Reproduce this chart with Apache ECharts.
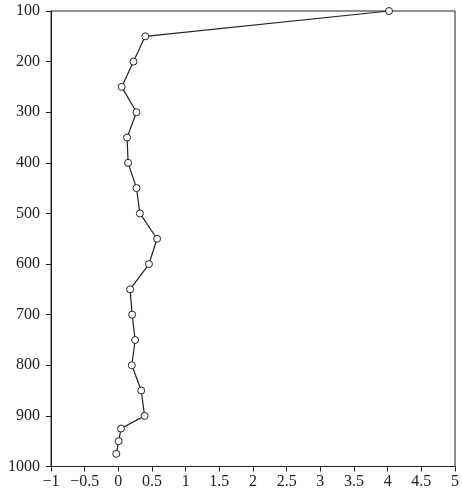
<!DOCTYPE html>
<html>
<head>
<meta charset="utf-8">
<script src="https://cdn.jsdelivr.net/npm/echarts@6/dist/echarts.min.js"></script>
<style>html,body{margin:0;padding:0;background:#fff}#c{width:462px;height:500px}</style>
</head>
<body>
<div id="c"></div>
<script>
const depths = [100,150,200,250,300,350,400,450,500,550,600,650,700,750,800,850,900,925,950,975];
const values = [4.02,0.40,0.225,0.05,0.27,0.13,0.145,0.27,0.32,0.575,0.455,0.175,0.205,0.25,0.20,0.34,0.39,0.04,0.005,-0.03];
const xTicks = [-1,-0.5,0,0.5,1,1.5,2,2.5,3,3.5,4,4.5,5];
const yTicks = [100,200,300,400,500,600,700,800,900,1000];

const chart = echarts.init(document.getElementById('c'), null, {renderer:'canvas'});
const fontFam = '"Liberation Serif", "DejaVu Serif", serif';
const ink = '#222';
chart.setOption({
  animation:false,
  grid:{left:51, top:11, right:4.5, bottom:33.5, show:true, borderColor:ink, borderWidth:1},
  xAxis:{
    type:'value', min:xTicks[0], max:xTicks[xTicks.length-1], interval:0.5,
    axisLine:{onZero:false, lineStyle:{color:ink, width:1}},
    axisTick:{show:true, length:5, inside:false, lineStyle:{color:ink}},
    splitLine:{show:false},
    axisLabel:{color:ink, fontFamily:fontFam, fontSize:16, margin:7,
      formatter:v=>String(v).replace('-','\u2212')}
  },
  yAxis:{
    type:'value', inverse:true, min:yTicks[0], max:yTicks[yTicks.length-1], interval:100,
    axisLine:{show:true, onZero:false, lineStyle:{color:ink, width:1}},
    axisTick:{show:true, length:5, lineStyle:{color:ink}},
    splitLine:{show:false},
    axisLabel:{color:ink, fontFamily:fontFam, fontSize:16, margin:11,
      formatter:v=>String(v)}
  },
  series:[{
    type:'line',
    data:depths.map((d,i)=>[values[i], d]),
    symbol:'circle', symbolSize:7, showAllSymbol:true,
    lineStyle:{color:ink, width:1.2},
    itemStyle:{color:'#fff', borderColor:ink, borderWidth:1},
    clip:false
  }]
});
</script>
</body>
</html>
